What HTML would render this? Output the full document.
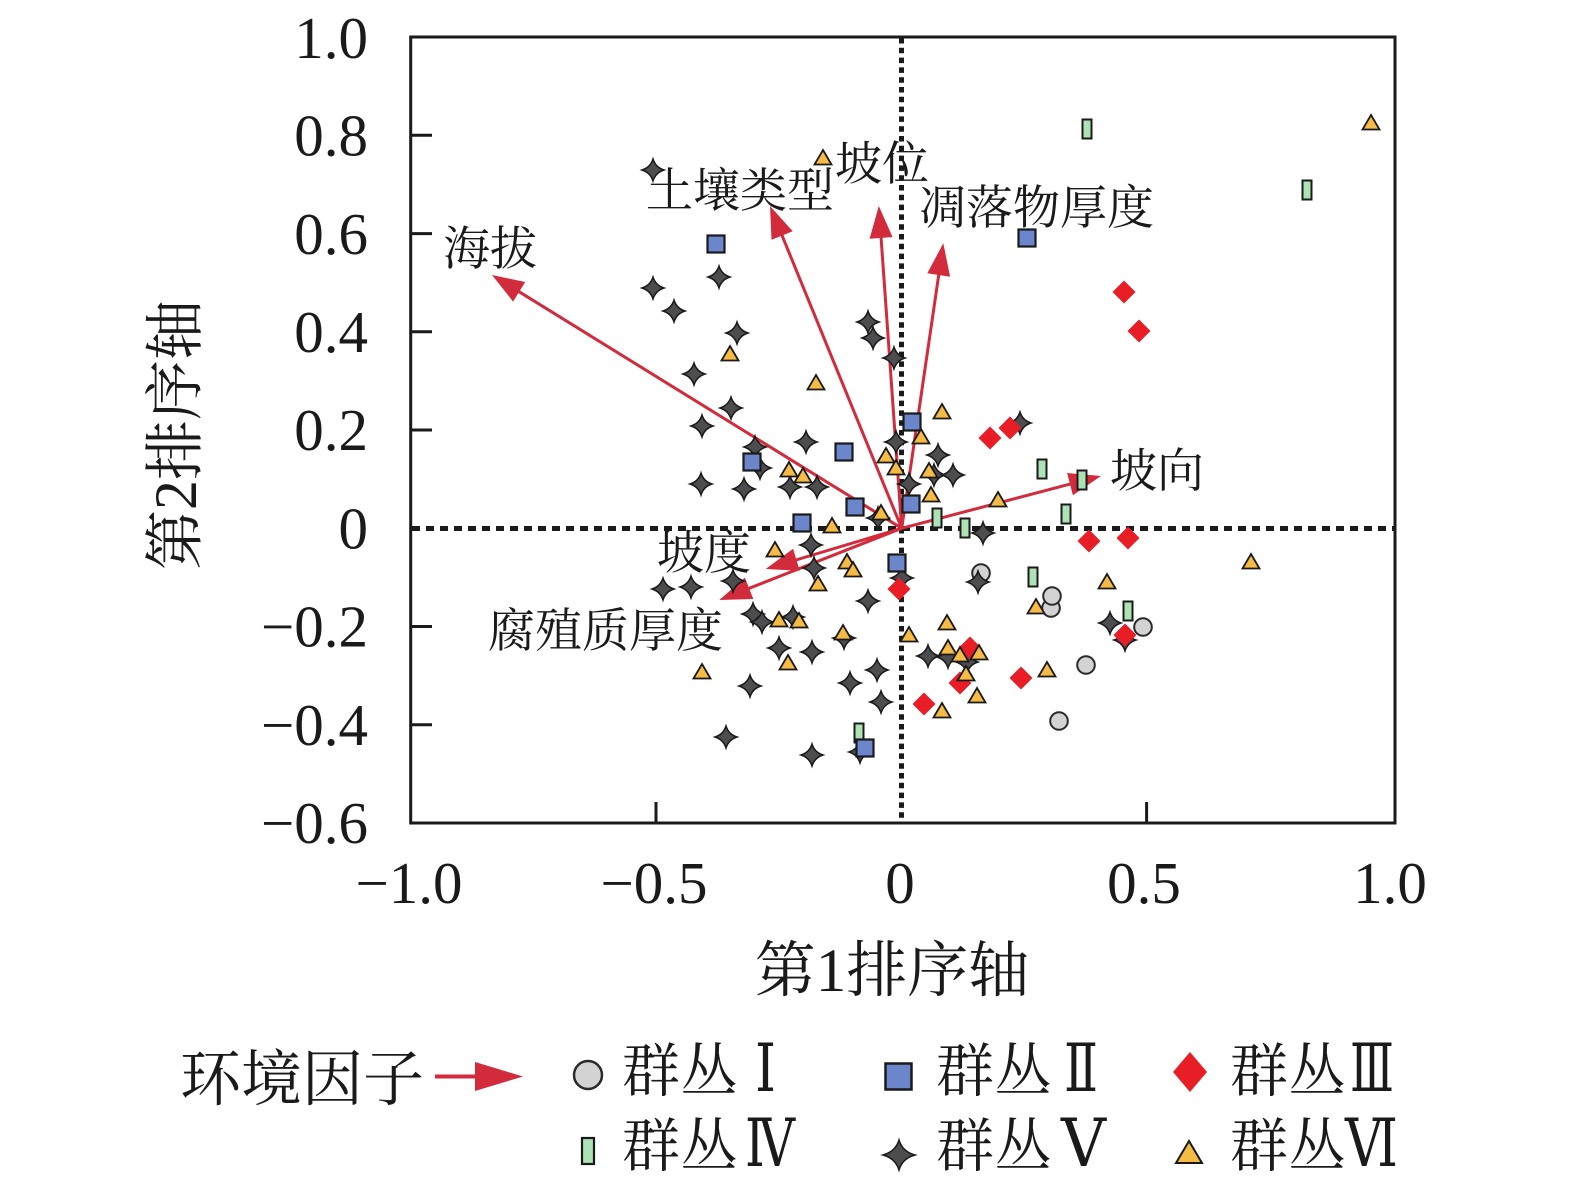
<!DOCTYPE html>
<html><head><meta charset="utf-8"><style>
html,body{margin:0;padding:0;background:#fff;}
svg{display:block;}
.t{font-family:"Liberation Serif","Noto Serif CJK SC",serif;fill:#1a1a1a;}
.c{font-family:"Liberation Serif","Noto Serif CJK SC",serif;fill:#1a1a1a;}
.r{font-family:"DejaVu Serif","Liberation Serif","Noto Serif CJK SC",serif;fill:#1a1a1a;}
</style></head><body>
<svg width="1575" height="1185" viewBox="0 0 1575 1185" xmlns="http://www.w3.org/2000/svg">
<defs>
<path id="st" d="M0,-11 Q2.6,-2.6 11,0 Q2.6,2.6 0,11 Q-2.6,2.6 -11,0 Q-2.6,-2.6 0,-11Z" fill="#4d4d4f" stroke="#1a1a1a" stroke-width="1.5"/>
<rect id="sq" x="-8.5" y="-8.5" width="17" height="17" fill="#6b86cb" stroke="#1a1a1a" stroke-width="2.2"/>
<path id="tr" d="M0,-8 L8.5,6.5 L-8.5,6.5Z" fill="#f5bb45" stroke="#1a1a1a" stroke-width="1.8"/>
<path id="dm" d="M0,-11.5 L11.5,0 L0,11.5 L-11.5,0Z" fill="#e81d25"/>
<rect id="gr" x="-4.5" y="-9.5" width="9" height="19" fill="#ade2b5" stroke="#1a1a1a" stroke-width="2"/>
<circle id="ci" r="8.8" fill="#d3d3d3" stroke="#2a2a2a" stroke-width="2"/>
</defs>

<line x1="901.5" y1="38" x2="901.5" y2="822" stroke="#1a1a1a" stroke-width="5" stroke-dasharray="5.5 4.3"/>
<line x1="412" y1="528.5" x2="1394" y2="528.5" stroke="#1a1a1a" stroke-width="5" stroke-dasharray="8 6"/>

<rect x="410.7" y="37" width="984.3" height="786" fill="none" stroke="#1a1a1a" stroke-width="3"/>
<g stroke="#1a1a1a" stroke-width="3">
<line x1="410.7" y1="135.3" x2="432" y2="135.3"/>
<line x1="410.7" y1="233.6" x2="432" y2="233.6"/>
<line x1="410.7" y1="331.8" x2="432" y2="331.8"/>
<line x1="410.7" y1="430" x2="432" y2="430"/>
<line x1="410.7" y1="626.5" x2="432" y2="626.5"/>
<line x1="410.7" y1="724.8" x2="432" y2="724.8"/>
<line x1="656" y1="823" x2="656" y2="802"/>
<line x1="1146.6" y1="823" x2="1146.6" y2="802"/>
</g>

<g class="t" font-size="59" text-anchor="end">
<text x="368" y="58">1.0</text>
<text x="368" y="155.5">0.8</text>
<text x="368" y="253.8">0.6</text>
<text x="368" y="352">0.4</text>
<text x="368" y="450">0.2</text>
<text x="368" y="548.5">0</text>
<text x="368" y="646.5">−0.2</text>
<text x="368" y="745">−0.4</text>
<text x="368" y="843">−0.6</text>
</g>
<g class="t" font-size="59" text-anchor="middle">
<text x="409" y="903">−1.0</text>
<text x="654" y="903">−0.5</text>
<text x="900" y="903">0</text>
<text x="1144" y="903">0.5</text>
<text x="1390" y="903">1.0</text>
</g>

<text class="c" x="892" y="991" font-size="61" text-anchor="middle">第1排序轴</text>
<text class="c" font-size="60" text-anchor="middle" transform="translate(196,435) rotate(-90)">第2排序轴</text>

<g stroke="#d22b3b" stroke-width="3" fill="none">
<line x1="901.7" y1="528.3" x2="515.8" y2="289.7"/>
<line x1="901.7" y1="528.3" x2="780.6" y2="231.9"/>
<line x1="901.7" y1="528.3" x2="880.8" y2="233.9"/>
<line x1="901.7" y1="528.3" x2="939.3" y2="271"/>
<line x1="901.7" y1="528.3" x2="1073.9" y2="483.1"/>
<line x1="901.7" y1="528.3" x2="792.5" y2="561"/>
<line x1="901.7" y1="528.3" x2="745.4" y2="589.8"/>
</g>
<g fill="#d22b3b">
<polygon points="492,275 525.2,282 513.1,301.6"/>
<polygon points="770,206 792.7,231.3 771.5,239.9"/>
<polygon points="878.8,206 892.6,237.1 869.6,238.7"/>
<polygon points="943.3,243.3 950.1,276.7 927.3,273.3"/>
<polygon points="1101,476 1072.9,495.2 1067.1,473"/>
<polygon points="765.7,569 793.1,548.8 799.7,570.8"/>
<polygon points="719.3,600 744.9,577.6 753.3,599"/>
</g>

<g class="c" font-size="47">
<text x="443" y="265">海拔</text>
<text x="646" y="207">土壤类型</text>
<text x="835" y="180">坡位</text>
<text x="919" y="224">凋落物厚度</text>
<text x="1110" y="487">坡向</text>
<text x="657" y="569">坡度</text>
<text x="488" y="647">腐殖质厚度</text>
</g>

<use href="#ci" x="981" y="573"/>
<use href="#ci" x="1051" y="608"/>
<use href="#ci" x="1052" y="596"/>
<use href="#ci" x="1143" y="627"/>
<use href="#ci" x="1086" y="665"/>
<use href="#ci" x="1059" y="721"/>

<use href="#gr" x="1087" y="129"/>
<use href="#gr" x="1307" y="190"/>
<use href="#gr" x="1042" y="469"/>
<use href="#gr" x="1082" y="480"/>
<use href="#gr" x="937" y="518"/>
<use href="#gr" x="965" y="528"/>
<use href="#gr" x="1066" y="514"/>
<use href="#gr" x="1033" y="577"/>
<use href="#gr" x="1128" y="611"/>
<use href="#gr" x="859" y="733"/>

<use href="#st" x="653" y="170"/>
<use href="#st" x="719" y="277"/>
<use href="#st" x="653" y="288"/>
<use href="#st" x="674" y="311"/>
<use href="#st" x="737" y="333"/>
<use href="#st" x="694" y="374"/>
<use href="#st" x="731" y="408"/>
<use href="#st" x="702" y="426"/>
<use href="#st" x="806" y="442"/>
<use href="#st" x="755" y="447"/>
<use href="#st" x="760" y="468"/>
<use href="#st" x="701" y="484"/>
<use href="#st" x="744" y="489"/>
<use href="#st" x="790" y="487"/>
<use href="#st" x="817" y="487"/>
<use href="#st" x="868" y="322"/>
<use href="#st" x="873" y="338"/>
<use href="#st" x="894" y="358"/>
<use href="#st" x="896" y="442"/>
<use href="#st" x="938" y="455"/>
<use href="#st" x="934" y="475"/>
<use href="#st" x="953" y="475"/>
<use href="#st" x="909" y="484"/>
<use href="#st" x="1020" y="423"/>
<use href="#st" x="878" y="518"/>
<use href="#st" x="983" y="533"/>
<use href="#st" x="811" y="545"/>
<use href="#st" x="814" y="568"/>
<use href="#st" x="663" y="589"/>
<use href="#st" x="691" y="587"/>
<use href="#st" x="733" y="581"/>
<use href="#st" x="902" y="578"/>
<use href="#st" x="868" y="601"/>
<use href="#st" x="753" y="614"/>
<use href="#st" x="762" y="622"/>
<use href="#st" x="793" y="617"/>
<use href="#st" x="978" y="582"/>
<use href="#st" x="844" y="638"/>
<use href="#st" x="779" y="648"/>
<use href="#st" x="812" y="652"/>
<use href="#st" x="877" y="670"/>
<use href="#st" x="750" y="686"/>
<use href="#st" x="850" y="683"/>
<use href="#st" x="881" y="702"/>
<use href="#st" x="726" y="737"/>
<use href="#st" x="812" y="755"/>
<use href="#st" x="860" y="752"/>
<use href="#st" x="928" y="656"/>
<use href="#st" x="948" y="657"/>
<use href="#st" x="967" y="662"/>
<use href="#st" x="1110" y="623"/>
<use href="#st" x="1125" y="640"/>

<use href="#sq" x="716" y="244"/>
<use href="#sq" x="1027" y="238"/>
<use href="#sq" x="912" y="422"/>
<use href="#sq" x="844" y="452"/>
<use href="#sq" x="752" y="462"/>
<use href="#sq" x="911" y="504"/>
<use href="#sq" x="855" y="507"/>
<use href="#sq" x="802" y="523"/>
<use href="#sq" x="897" y="563"/>
<use href="#sq" x="865" y="748"/>

<use href="#dm" x="1124" y="292"/>
<use href="#dm" x="1139" y="331"/>
<use href="#dm" x="1010" y="428"/>
<use href="#dm" x="990" y="438"/>
<use href="#dm" x="1089" y="541"/>
<use href="#dm" x="1128" y="538"/>
<use href="#dm" x="899" y="589"/>
<use href="#dm" x="970" y="648"/>
<use href="#dm" x="960" y="683"/>
<use href="#dm" x="1021" y="678"/>
<use href="#dm" x="924" y="704"/>
<use href="#dm" x="1125" y="635"/>

<use href="#tr" x="823" y="158"/>
<use href="#tr" x="1371" y="123"/>
<use href="#tr" x="730" y="354"/>
<use href="#tr" x="816" y="383"/>
<use href="#tr" x="942" y="412"/>
<use href="#tr" x="921" y="437"/>
<use href="#tr" x="886" y="456"/>
<use href="#tr" x="896" y="468"/>
<use href="#tr" x="789" y="470"/>
<use href="#tr" x="803" y="476"/>
<use href="#tr" x="929" y="471"/>
<use href="#tr" x="931" y="495"/>
<use href="#tr" x="998" y="500"/>
<use href="#tr" x="832" y="526"/>
<use href="#tr" x="881" y="513"/>
<use href="#tr" x="775" y="550"/>
<use href="#tr" x="847" y="562"/>
<use href="#tr" x="853" y="570"/>
<use href="#tr" x="818" y="584"/>
<use href="#tr" x="779" y="620"/>
<use href="#tr" x="799" y="621"/>
<use href="#tr" x="843" y="633"/>
<use href="#tr" x="909" y="635"/>
<use href="#tr" x="947" y="623"/>
<use href="#tr" x="702" y="672"/>
<use href="#tr" x="788" y="663"/>
<use href="#tr" x="948" y="648"/>
<use href="#tr" x="1251" y="562"/>
<use href="#tr" x="1107" y="582"/>
<use href="#tr" x="1036" y="607"/>
<use href="#tr" x="960" y="655"/>
<use href="#tr" x="979" y="653"/>
<use href="#tr" x="966" y="674"/>
<use href="#tr" x="977" y="696"/>
<use href="#tr" x="942" y="711"/>
<use href="#tr" x="1047" y="670"/>

<text class="c" x="180" y="1100" font-size="61">环境因子</text>
<line x1="435" y1="1076.5" x2="478" y2="1076.5" stroke="#d22b3b" stroke-width="4"/>
<polygon points="523,1076.5 475,1062 475,1091" fill="#d22b3b"/>

<circle cx="588" cy="1075" r="14" fill="#d3d3d3" stroke="#2a2a2a" stroke-width="2.5"/>
<rect x="582" y="1138" width="12" height="26" fill="#ade2b5" stroke="#1a1a1a" stroke-width="2.2"/>
<rect x="885.5" y="1063.5" width="26" height="26" fill="#6b86cb" stroke="#1a1a1a" stroke-width="2.5"/>
<path transform="translate(899,1155)" d="M0,-15 Q3.4,-3.4 16,0 Q3.4,3.4 0,15 Q-3.4,3.4 -16,0 Q-3.4,-3.4 0,-15Z" fill="#4d4d4f" stroke="#1a1a1a" stroke-width="1.5"/>
<path d="M1190,1052 L1207,1072 L1190,1092 L1173,1072Z" fill="#e81d25"/>
<path d="M1189,1141 L1202,1163 L1176,1163Z" fill="#f5bb45" stroke="#1a1a1a" stroke-width="2"/>

<g class="c" font-size="58">
<text x="622" y="1091">群丛</text>
<text x="936" y="1091">群丛</text>
<text x="1230" y="1091">群丛</text>
<text x="622" y="1166">群丛</text>
<text x="936" y="1166">群丛</text>
<text x="1230" y="1166">群丛</text>
</g>
<g class="r" font-size="66">
<text x="755" y="1091" textLength="21" lengthAdjust="spacingAndGlyphs">Ⅰ</text>
<text x="1064" y="1091" textLength="34" lengthAdjust="spacingAndGlyphs">Ⅱ</text>
<text x="1350" y="1091" textLength="44" lengthAdjust="spacingAndGlyphs">Ⅲ</text>
<text x="745" y="1166" textLength="50" lengthAdjust="spacingAndGlyphs">Ⅳ</text>
<text x="1061" y="1166" textLength="45" lengthAdjust="spacingAndGlyphs">Ⅴ</text>
<text x="1345" y="1166" textLength="53" lengthAdjust="spacingAndGlyphs">Ⅵ</text>
</g>
</svg>
</body></html>
